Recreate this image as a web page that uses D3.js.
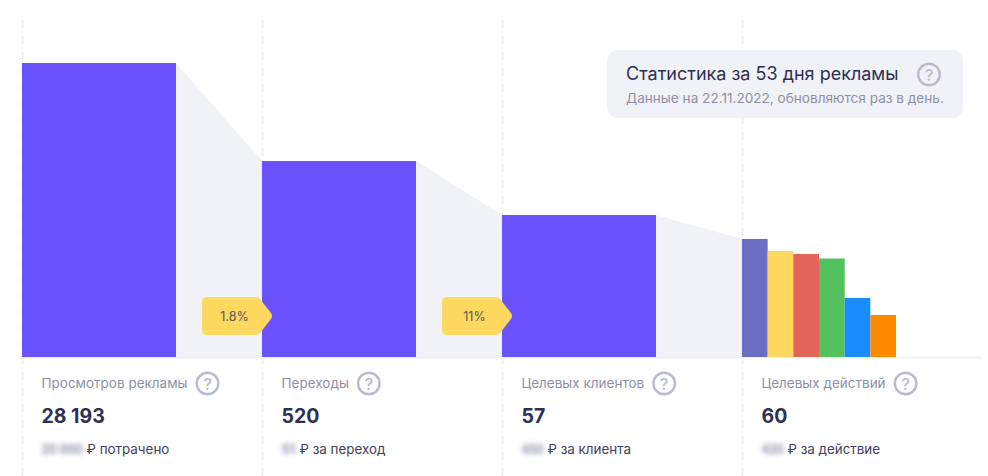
<!DOCTYPE html>
<html><head><meta charset="utf-8">
<script src="https://cdn.jsdelivr.net/npm/d3@7"></script>
<style>
html,body{margin:0;padding:0;background:#fff}
svg{display:block}
text{font-family:Inter,"Noto Sans",sans-serif}
</style></head><body><div id="c"></div>
<script>
const stageLabels=["Просмотров рекламы","Переходы","Целевых клиентов","Целевых действий"];
const stageTotals=["28 193","520","57","60"];
const stageHeights=[294,196,142];
const hiddenCosts=["20 000","51","450","420"];
const costLabels=["₽ потрачено","₽ за переход","₽ за клиента","₽ за действие"];
const conversionLabels=["1.8%","11%"];
const goalHeights=[118,106,103,98.5,59,42];
const goalColors=["#6c6ec1","#ffd95f","#e2645a","#52c15e","#1a8cff","#ff8a00"];
const cardTitle="Статистика за 53 дня рекламы";
const cardNote="Данные на 22.11.2022, обновляются раз в день.";

const W=988,H=476,base=357,step=240,left=22,barW=154;
const costOffsets=[45,18,26,26];
const svg=d3.select("#c").append("svg").attr("width",W).attr("height",H);
const defs=svg.append("defs");
defs.append("filter").attr("id","blur").attr("x","-40%").attr("y","-80%").attr("width","180%").attr("height","260%")
  .append("feGaussianBlur").attr("stdDeviation",2.8);

const x=d3.scaleLinear().domain([0,1]).range([left,left+step]);
const y=d3.scaleLinear().domain([0,294]).range([base,63]);
const goalX=d3.scaleBand().domain(d3.range(goalHeights.length)).range([x(3),x(3)+barW]);

// connectors
const levels=[...stageHeights,goalHeights[0]];
svg.selectAll(".conn").data(stageHeights).join("path").attr("fill","#f1f2f6")
  .attr("d",(d,i)=>`M${x(i)+barW},${y(d)}L${x(i+1)},${y(levels[i+1])}L${x(i+1)},${base}L${x(i)+barW},${base}Z`);

// dashed guides
svg.selectAll(".guide").data(d3.range(4)).join("line")
  .attr("x1",d=>x(d)+.5).attr("x2",d=>x(d)+.5).attr("y1",20).attr("y2",H)
  .attr("stroke","#eeeff5").attr("stroke-width",2).attr("stroke-dasharray","8 8");

// baseline
svg.append("line").attr("x1",left).attr("x2",982).attr("y1",base+.5).attr("y2",base+.5)
  .attr("stroke","#f0f1f6").attr("stroke-width",2);

// bars
svg.selectAll(".bar").data(stageHeights).join("rect")
  .attr("x",(d,i)=>x(i)).attr("y",d=>y(d)).attr("width",barW).attr("height",d=>base-y(d)).attr("fill","#6a52ff");
svg.selectAll(".goal").data(goalHeights).join("rect")
  .attr("x",(d,i)=>goalX(i)).attr("y",d=>y(d)).attr("width",goalX.bandwidth()).attr("height",d=>base-y(d))
  .attr("fill",(d,i)=>goalColors[i]);

// callouts
const call=svg.selectAll(".call").data(conversionLabels).join("g").attr("transform",(d,i)=>`translate(${x(i+1)-60},297)`);
call.append("path").attr("fill","#ffd95f")
  .attr("d","M5,0H53Q56,0 58,2L69,16Q71,19 69,22L58,36Q56,38 53,38H5Q0,38 0,33V5Q0,0 5,0Z");
call.append("text").attr("x",32.5).attr("y",24).attr("text-anchor","middle").attr("font-size",12.5).attr("fill","#56555c").text(d=>d);

function help(g,cx,cy){
  g.append("circle").attr("cx",cx).attr("cy",cy).attr("r",10.8).attr("fill","none").attr("stroke","#b9bccd").attr("stroke-width",2.4);
  g.append("text").attr("x",cx).attr("y",cy+6).attr("text-anchor","middle").attr("font-size",16.5).attr("font-weight",500).attr("fill","#b9bccd").text("?");
}

// column text
const col=svg.selectAll(".col").data(stageLabels).join("g").attr("transform",(d,i)=>`translate(${x(i)+19.5},0)`);
col.each(function(d,i){
  const g=d3.select(this);
  const t=g.append("text").attr("y",388).attr("font-size",13.5).attr("fill","#8d90a6").text(d);
  help(g,t.node().getComputedTextLength()+20,383.5);
  g.append("text").attr("y",423).attr("font-size",19.5).attr("font-weight",700).attr("fill","#2e2f52").text(stageTotals[i]);
  g.append("text").attr("y",454).attr("font-size",13.5).attr("font-weight",700).attr("fill","#8d90a6")
    .attr("textLength",costOffsets[i]-4).attr("lengthAdjust","spacingAndGlyphs").attr("filter","url(#blur)").text(hiddenCosts[i]);
  g.append("text").attr("x",costOffsets[i]).attr("y",454).attr("font-size",13.4).attr("fill","#3f405c").text(costLabels[i]);
});

// card
const card=svg.append("g");
card.append("rect").attr("x",607).attr("y",50).attr("width",356).attr("height",68).attr("rx",11).attr("fill","#f1f2f7");
card.append("text").attr("x",626).attr("y",80).attr("font-size",18).attr("fill","#2e2f52").text(cardTitle);
card.append("text").attr("x",626).attr("y",103).attr("font-size",13.6).attr("fill","#8d90a6").text(cardNote);
help(card,929,74.5);
</script></body></html>
